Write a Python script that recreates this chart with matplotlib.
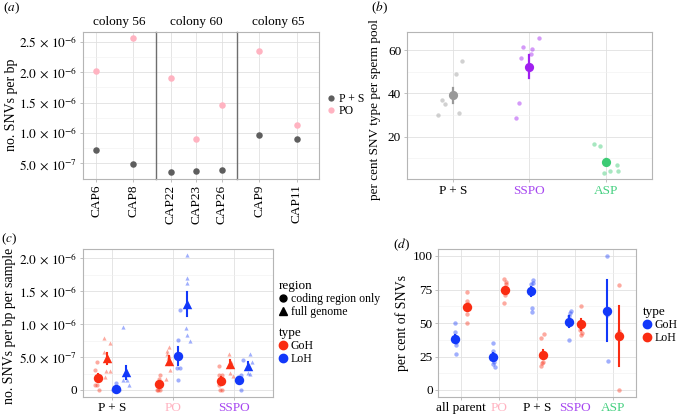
import numpy as np
import matplotlib.pyplot as plt
from matplotlib.lines import Line2D

plt.rcParams['font.family'] = ['Liberation Serif', 'DejaVu Serif']
plt.rcParams['mathtext.fontset'] = 'stix'
plt.rcParams['font.size'] = 9

# ── Panel (a): SNVs per bp per sample, split by colony ─────────────────────────
samples_a = ["CAP6", "CAP8", "CAP22", "CAP23", "CAP26", "CAP9", "CAP11"]
colony_a  = [56, 56, 60, 60, 60, 65, 65]
ps_a      = [7.19e-7, 4.88e-7, 3.52e-7, 3.68e-7, 3.90e-7, 9.70e-7, 8.95e-7]
po_a      = [2.018e-6, 2.56e-6, 1.908e-6, 9.05e-7, 1.464e-6, 2.352e-6, 1.135e-6]

# ── Panel (b): per cent SNV type per sperm pool ───────────────────────────────
cats_b = ["P + S", "SSPO", "ASP"]
pts_b  = [[30.1, 36.8, 35.2, 48.8, 55.1, 30.9],
          [61.5, 65.5, 56.4, 60.3, 58.0, 35.7, 28.6],
          [16.5, 15.7, 6.9, 3.5, 4.3, 4.1]]
jit_b  = [[-0.19, -0.14, -0.10, 0.04, 0.12, 0.08],
          [-0.08, 0.12, -0.105, 0.04, 0.02, -0.135, -0.17],
          [-0.16, -0.08, 0.14, -0.02, 0.05, 0.16]]
mean_b = [39.2, 52.3, 8.5]
lo_b   = [35.8, 46.9, 7.3]
hi_b   = [42.6, 57.7, 9.7]

# ── Panel (c): SNVs per bp per sample by region / type (units of 1e-7) ─────────
cats_c = ["P + S", "PO", "SSPO"]
groups_c = ["GoH coding", "GoH full", "LoH coding", "LoH full"]
pts_c = {
    "GoH coding": [[4.3, 3.0, 0.8, 0.8, 0.0], [2.3, 1.7, 0.0, 0.0, 0.0],
                   [3.7, 2.3, 2.3, 0.8, 0.0, 0.0]],
    "GoH full":   [[7.9, 7.1, 5.7, 2.9, 2.9, 2.0], [6.6, 5.9, 5.4, 5.1, 4.8, 3.1, 1.6],
                   [5.4, 4.2, 2.6, 2.2]],
    "LoH coding": [[1.1, 0.0, 0.0, 0.0, 0.0], [12.1, 7.6, 3.3, 3.3, 1.5],
                   [4.6, 2.3, 2.0, 0.0]],
    "LoH full":   [[9.5, 2.5, 1.5, 1.5, 0.8], [20.5, 17.0, 16.2, 9.4, 8.3, 7.4],
                   [5.4, 4.3, 3.3, 2.5, 2.6]],
}
jit_c = {
    "GoH coding": [[-0.01, -0.05, -0.055, -0.02, 0.015], [0.015, -0.01, -0.04, 0.005, -0.015],
                   [-0.02, -0.02, 0.015, -0.02, -0.01, 0.015]],
    "GoH full":   [[-0.045, 0.04, -0.045, -0.015, 0.04, -0.03],
                   [0.0, -0.02, -0.02, 0.01, -0.01, 0.03, -0.035],
                   [-0.02, 0.015, 0.005, 0.05]],
    "LoH coding": [[-0.01, -0.05, -0.03, 0.015, 0.04], [0.03, 0.01, -0.015, 0.03, 0.0],
                   [0.065, 0.03, -0.01, 0.04]],
    "LoH full":   [[-0.035, -0.005, -0.035, 0.02, 0.05], [0.0, -0.005, -0.005, -0.015, 0.0, 0.05],
                   [0.03, 0.065, 0.005, 0.03, 0.0]],
}
mean_c = {"GoH coding": [1.87, 0.91, 1.42], "GoH full": [4.8, 4.46, 3.9],
          "LoH coding": [0.1, 5.17, 1.52], "LoH full": [2.7, 13.0, 3.65]}
lo_c   = {"GoH coding": [1.3, 0.5, 1.0], "GoH full": [4.0, 3.8, 3.3],
          "LoH coding": [0.0, 3.8, 1.0], "LoH full": [1.7, 11.2, 3.0]}
hi_c   = {"GoH coding": [2.4, 1.4, 1.9], "GoH full": [5.6, 5.2, 4.5],
          "LoH coding": [0.3, 6.5, 2.0], "LoH full": [3.7, 14.9, 4.3]}
SC = 1e-7

# ── Panel (d): per cent of SNVs by type ───────────────────────────────────────
cats_d = ["all parent", "PO", "P + S", "SSPO", "ASP"]
goh_d = [[50.2, 43.5, 37.0, 35.5, 33.6, 26.6], [35.3, 29.0, 21.0, 19.6, 17.5],
         [82.0, 80.0, 79.0, 61.5, 58.5], [59.0, 57.2, 55.4, 37.5], [100.0, 56.0, 21.6]]
loh_d = [[49.8, 56.5, 63.0, 64.5, 66.4, 73.4], [64.7, 71.0, 79.0, 80.4, 82.5],
         [18.0, 20.0, 21.0, 38.5, 41.5], [41.0, 42.8, 44.6, 62.5], [0.0, 44.0, 78.4]]
goh_jit = [[0.0, 0.0, -0.02, 0.01, 0.02, 0.02], [0.0, -0.01, 0.01, 0.0, 0.03],
           [0.03, 0.05, 0.0, 0.01, 0.02], [0.03, 0.02, 0.0, -0.02], [-0.01, 0.0, 0.01]]
loh_jit = [[0.0, 0.0, 0.02, 0.03, 0.01, 0.0], [-0.03, 0.0, 0.02, 0.03, -0.03],
           [-0.05, -0.02, 0.0, -0.05, 0.02], [0.01, 0.02, -0.02, 0.0], [-0.01, 0.0, -0.01]]
goh_mean = [38.1, 24.9, 73.6, 51.0, 59.2]
loh_mean = [61.7, 74.6, 26.1, 49.0, 40.5]
goh_lo, goh_hi = [35.5, 22.5, 70.5, 47.0, 36.8], [40.7, 27.3, 76.7, 55.0, 82.1]
loh_lo, loh_hi = [59.3, 72.2, 23.3, 45.0, 18.1], [64.5, 77.0, 29.5, 53.0, 62.9]

# ── Styling ───────────────────────────────────────────────────────────────────
W, H = 679, 416
RED, BLUE = "#FA2C12", "#1238FA"
GREY_PS, PINK = "#5E5E5E", "#FFB3C1"
PURPLE, GREEN = "#A020F0", "#3CCB74"
BORDER, GRID, MINOR = "#B5B5B5", "#E0E0E0", "#F0F0F0"


def box(x0, y0, x1, y1):
    return [x0 / W, 1 - y1 / H, (x1 - x0) / W, (y1 - y0) / H]


def sci(v, e):
    return rf"${v}\,\times\,10^{{{e}}}$"


def style(ax, minor_y):
    for s in ax.spines.values():
        s.set_color(BORDER)
        s.set_linewidth(0.8)
    ax.tick_params(length=2.5, width=0.6, color=BORDER, pad=1.5, labelsize=9.5)
    ax.set_yticks(minor_y, minor=True)
    ax.tick_params(which="minor", length=0)
    ax.grid(True, which="major", color=GRID, lw=0.6)
    ax.grid(True, which="minor", axis="y", color=MINOR, lw=0.4)
    ax.set_axisbelow(True)


fig = plt.figure(figsize=(W / 100, H / 100), dpi=100)

# ── (a) ───────────────────────────────────────────────────────────────────────
facet_px = [(83, 155.7), (155.7, 237.3), (237.3, 319)]
facet_xlim = [(-0.35, 1.6), (-0.59, 2.61), (-0.59, 1.6)]
colonies = [56, 60, 65]
yt_a = [5e-7, 1e-6, 1.5e-6, 2e-6, 2.5e-6]
yl_a = [sci("5.0", -7), sci("1.0", -6), sci("1.5", -6), sci("2.0", -6), sci("2.5", -6)]
for i, col in enumerate(colonies):
    ax = fig.add_axes(box(facet_px[i][0], 32, facet_px[i][1], 179))
    idx = [k for k, c in enumerate(colony_a) if c == col]
    xs = np.arange(len(idx))
    ax.scatter(xs, [po_a[k] for k in idx], s=22, color=PINK, lw=0, zorder=3)
    ax.scatter(xs, [ps_a[k] for k in idx], s=22, color=GREY_PS, lw=0, zorder=3)
    ax.set_xlim(*facet_xlim[i])
    ax.set_ylim(2.42e-7, 2.66e-6)
    ax.set_xticks(xs)
    ax.set_xticklabels([samples_a[k] for k in idx], rotation=90)
    ax.set_yticks(yt_a)
    style(ax, [7.5e-7, 1.25e-6, 1.75e-6, 2.25e-6])
    if i == 0:
        ax.set_yticklabels(yl_a)
    else:
        ax.set_yticklabels([])
        ax.tick_params(axis="y", length=0)
        ax.spines["left"].set_color("#6E6E6E")
        ax.spines["left"].set_linewidth(1.0)
    if i < 2:
        ax.spines["right"].set_visible(False)
    ax.set_title(f"colony {col}", fontsize=9.5, pad=5)

fig.text(11 / W, 1 - 105 / H, "no. SNVs per bp", rotation=90, ha="center", va="center",
         fontsize=10)
fig.legend([Line2D([], [], ls="", marker="o", ms=4.5, color=GREY_PS, mew=0),
            Line2D([], [], ls="", marker="o", ms=4.5, color=PINK, mew=0)],
           ["P + S", "PO"], loc="center left", bbox_to_anchor=(326 / W, 1 - 105 / H),
           frameon=False, handlelength=0.8, handletextpad=0.3, labelspacing=0.0,
           borderpad=0, borderaxespad=0, fontsize=8.5)

# ── (b) ───────────────────────────────────────────────────────────────────────
ax = fig.add_axes(box(406.7, 31.7, 652, 179))
cols_b = ["#999999", PURPLE, GREEN]
for i in range(len(cats_b)):
    ax.scatter(i + np.array(jit_b[i]), pts_b[i], s=10, color=cols_b[i], alpha=0.45,
               lw=0, zorder=3)
    ax.plot([i, i], [lo_b[i], hi_b[i]], color=cols_b[i], lw=1.6, zorder=4)
    ax.scatter([i], [mean_b[i]], s=44, color=cols_b[i], lw=0, zorder=5)
ax.set_xlim(-0.6, 2.6)
ax.set_ylim(0.5, 68.5)
ax.set_xticks(range(len(cats_b)))
ax.set_xticklabels(cats_b)
ax.set_yticks([20, 40, 60])
style(ax, [10, 30, 50])
for lab, c in zip(ax.get_xticklabels(), ["black", "#A646F0", "#45D080"]):
    lab.set_color(c)
fig.text(375 / W, 1 - 110 / H, "per cent SNV type per sperm pool", rotation=90,
         ha="center", va="center", fontsize=9.5)

# ── (c) ───────────────────────────────────────────────────────────────────────
ax = fig.add_axes(box(83, 249.3, 273, 396.7))
dodge = {"GoH coding": -0.225, "GoH full": -0.075, "LoH coding": 0.075, "LoH full": 0.225}
gcol = {"GoH coding": RED, "GoH full": RED, "LoH coding": BLUE, "LoH full": BLUE}
gmark = {"GoH coding": "o", "GoH full": "^", "LoH coding": "o", "LoH full": "^"}
for g in groups_c:
    for i in range(len(cats_c)):
        x0 = i + dodge[g]
        ax.scatter(x0 + np.array(jit_c[g][i]), np.array(pts_c[g][i]) * SC, s=9,
                   marker=gmark[g], color=gcol[g], alpha=0.4, lw=0, zorder=3)
        ax.plot([x0, x0], [lo_c[g][i] * SC, hi_c[g][i] * SC], color=gcol[g], lw=1.5,
                zorder=4)
        ax.scatter([x0], [mean_c[g][i] * SC], s=46, marker=gmark[g], color=gcol[g],
                   lw=0, zorder=5)
ax.set_xlim(-0.47, 2.63)
ax.set_ylim(-1.02e-7, 2.137e-6)
ax.set_xticks(range(len(cats_c)))
ax.set_xticklabels(cats_c)
ax.set_yticks([0, 5e-7, 1e-6, 1.5e-6, 2e-6])
ax.set_yticklabels(["0", sci("5.0", -7), sci("1.0", -6), sci("1.5", -6), sci("2.0", -6)])
style(ax, [2.5e-7, 7.5e-7, 1.25e-6, 1.75e-6])
for lab, c in zip(ax.get_xticklabels(), ["black", PINK, "#A646F0"]):
    lab.set_color(c)
fig.text(10 / W, 1 - 326 / H, "no. SNVs per bp per sample", rotation=90,
         ha="center", va="center", fontsize=10)

leg1 = fig.legend([Line2D([], [], ls="", marker="o", ms=5, color="black"),
                   Line2D([], [], ls="", marker="^", ms=5.5, color="black")],
                  ["coding region only", "full genome"], title="region",
                  loc="upper left", bbox_to_anchor=(279 / W, 1 - 280 / H), frameon=False,
                  handlelength=0.6, handletextpad=0.4, labelspacing=0.1, borderpad=0,
                  borderaxespad=0, fontsize=8.5, title_fontsize=9.5)
leg1._legend_box.align = "left"
leg2 = fig.legend([Line2D([], [], ls="", marker="o", ms=6, color=RED),
                   Line2D([], [], ls="", marker="o", ms=6, color=BLUE)],
                  ["GoH", "LoH"], title="type",
                  loc="upper left", bbox_to_anchor=(279 / W, 1 - 327 / H), frameon=False,
                  handlelength=0.6, handletextpad=0.4, labelspacing=0.1, borderpad=0,
                  borderaxespad=0, fontsize=8.5, title_fontsize=9.5)
leg2._legend_box.align = "left"

# ── (d) ───────────────────────────────────────────────────────────────────────
ax = fig.add_axes(box(438.3, 249.3, 636, 396.7))
for i in range(len(cats_d)):
    for vals, jit, m, lo, hi, c, off in [
            (goh_d[i], goh_jit[i], goh_mean[i], goh_lo[i], goh_hi[i], BLUE, -0.15),
            (loh_d[i], loh_jit[i], loh_mean[i], loh_lo[i], loh_hi[i], RED, 0.15)]:
        ax.scatter(i + off + np.array(jit), vals, s=10, color=c, alpha=0.4, lw=0, zorder=3)
        ax.plot([i + off, i + off], [lo, hi], color=c, lw=1.5, zorder=4)
        ax.scatter([i + off], [m], s=46, color=c, lw=0, zorder=5)
ax.set_xlim(-0.6, 4.6)
ax.set_ylim(-5, 105)
ax.set_xticks(range(len(cats_d)))
ax.set_xticklabels(cats_d)
ax.set_yticks([0, 25, 50, 75, 100])
style(ax, [12.5, 37.5, 62.5, 87.5])
for lab, c in zip(ax.get_xticklabels(), ["black", PINK, "black", "#A646F0", "#45D080"]):
    lab.set_color(c)
fig.text(402 / W, 1 - 323 / H, "per cent of SNVs", rotation=90, ha="center",
         va="center", fontsize=10)
leg3 = fig.legend([Line2D([], [], ls="", marker="o", ms=6, color=BLUE),
                   Line2D([], [], ls="", marker="o", ms=6, color=RED)],
                  ["GoH", "LoH"], title="type",
                  loc="upper left", bbox_to_anchor=(643 / W, 1 - 306 / H), frameon=False,
                  handlelength=0.6, handletextpad=0.4, labelspacing=0.1, borderpad=0,
                  borderaxespad=0, fontsize=8.5, title_fontsize=9.5)
leg3._legend_box.align = "left"

# ── Panel letters ─────────────────────────────────────────────────────────────
for x, y, s in [(3, 8, "a"), (371, 8, "b"), (1, 239, "c"), (393, 245, "d")]:
    fig.text(x / W, 1 - y / H, f"(${{\\it {s}}}$)", ha="left", va="center", fontsize=9.5)

fig.savefig("out.png", dpi=100)
